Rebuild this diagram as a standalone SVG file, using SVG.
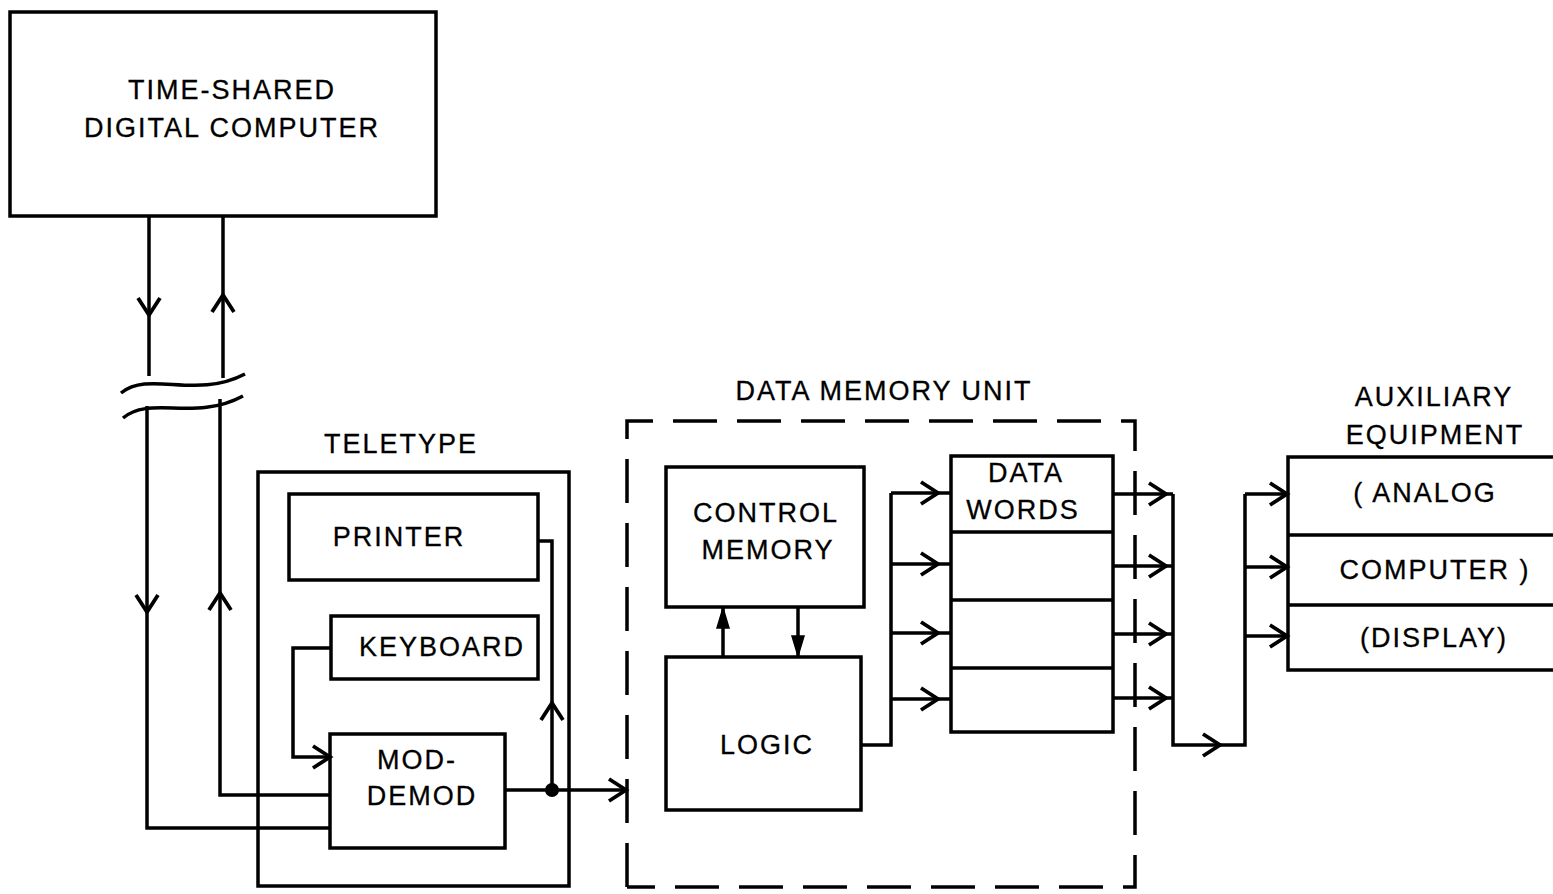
<svg xmlns="http://www.w3.org/2000/svg" width="1553" height="894" viewBox="0 0 1553 894">
<style>
.box{fill:none;stroke:#000;stroke-width:3.5}
.ln{fill:none;stroke:#000;stroke-width:3.5}
.dash{fill:none;stroke:#000;stroke-width:3.5;stroke-dasharray:44 20}
.t{font-family:"Liberation Sans",Arial,sans-serif;font-size:27px;letter-spacing:2px;text-anchor:middle;fill:#000;stroke:#000;stroke-width:0.3}
.oa{marker-end:url(#open)}
.om{marker-mid:url(#open)}
.sa{marker-end:url(#solid)}
</style>
<defs>
<marker id="open" markerUnits="userSpaceOnUse" viewBox="-20 -14 22 28" refX="0" refY="0" markerWidth="22" markerHeight="28" orient="auto" overflow="visible">
<path d="M-17,-11 L0,0 L-17,11" fill="none" stroke="#000" stroke-width="3.8"/>
</marker>
<marker id="solid" markerUnits="userSpaceOnUse" viewBox="-20 -8 22 16" refX="0" refY="0" markerWidth="22" markerHeight="16" orient="auto" overflow="visible">
<path d="M-20,-6 L0,0 L-20,6 Z" fill="#000" stroke="#000" stroke-width="1.5"/>
</marker>
</defs>
<rect width="1553" height="894" fill="#fff"/>

<g id="computer">
<rect class="box" x="10" y="12" width="426" height="204"/>
<text class="t" x="232" y="99">TIME-SHARED</text>
<text class="t" x="232" y="137">DIGITAL COMPUTER</text>
</g>

<g id="teletype">
<rect class="box" x="258" y="472" width="311" height="414"/>
<text class="t" x="401" y="453">TELETYPE</text>
</g>
<g id="printer">
<rect class="box" x="289" y="494" width="249" height="86"/>
<text class="t" x="399" y="546">PRINTER</text>
</g>
<g id="keyboard">
<rect class="box" x="331" y="616" width="207" height="63"/>
<text class="t" x="442" y="656">KEYBOARD</text>
</g>
<g id="moddemod">
<rect class="box" x="330" y="734" width="175" height="114"/>
<text class="t" x="417" y="769">MOD-</text>
<text class="t" x="422" y="805">DEMOD</text>
</g>

<g id="dmu">
<path class="dash" d="M627,887 V421 H1135 V887 H627"/>
<text class="t" x="884" y="400">DATA MEMORY UNIT</text>
</g>
<g id="control">
<rect class="box" x="666" y="467" width="198" height="140"/>
<text class="t" x="766" y="522">CONTROL</text>
<text class="t" x="768" y="559">MEMORY</text>
</g>
<g id="logic">
<rect class="box" x="666" y="657" width="195" height="153"/>
<text class="t" x="767" y="754">LOGIC</text>
</g>
<g id="datawords">
<rect class="box" x="951" y="456" width="162" height="276"/>
<path class="ln" d="M951,532 H1113 M951,600 H1113 M951,668 H1113"/>
<text class="t" x="1026" y="482">DATA</text>
<text class="t" x="1023" y="519">WORDS</text>
</g>

<g id="auxiliary">
<path class="box" d="M1553,457 H1288 V670 H1553 M1288,535 H1553 M1288,605 H1553"/>
<text class="t" x="1434" y="406">AUXILIARY</text>
<text class="t" x="1435" y="444">EQUIPMENT</text>
<text class="t" x="1425" y="502">( ANALOG</text>
<text class="t" x="1435" y="579">COMPUTER )</text>
<text class="t" x="1434" y="647">(DISPLAY)</text>
</g>

<g id="connectors">
<!-- computer to mod-demod (down) -->
<path class="ln oa" d="M149,216 V315"/>
<path class="ln" d="M149,315 V376"/>
<path class="ln oa" d="M147,406 V612"/>
<path class="ln" d="M147,612 V828 H330"/>
<!-- mod-demod to computer (up) -->
<path class="ln oa" d="M223,378 V295"/>
<path class="ln" d="M223,295 V216"/>
<path class="ln oa" d="M330,795 H220 V593"/>
<path class="ln" d="M220,593 V399"/>
<!-- break marks -->
<path class="ln" stroke-width="4.5" d="M121,393 C150,370 195,400 245,374"/>
<path class="ln" stroke-width="4.5" d="M123,418 C150,395 195,422 243,396"/>
<!-- keyboard to mod-demod -->
<path class="ln oa" d="M331,648 H293 V757 H330"/>
<!-- junction to printer -->
<path class="ln oa" d="M552,790 V703"/>
<path class="ln" d="M552,703 V541 H538"/>
<!-- mod-demod to data memory unit -->
<path class="ln oa" d="M505,790 H626"/>
<circle cx="552" cy="790" r="7" fill="#000"/>
<!-- logic / control memory -->
<path class="ln sa" d="M723,657 V608"/>
<path class="ln sa" d="M798,607 V656"/>
<!-- logic to data words -->
<path class="ln" d="M861,745 H891 V493"/>
<path class="ln om" d="M891,493 H938 H951"/>
<path class="ln om" d="M891,564 H938 H951"/>
<path class="ln om" d="M891,633 H938 H951"/>
<path class="ln om" d="M891,699 H938 H951"/>
<!-- data words to bus -->
<path class="ln om" d="M1113,494 H1166 H1173"/>
<path class="ln om" d="M1113,566 H1166 H1173"/>
<path class="ln om" d="M1113,634 H1166 H1173"/>
<path class="ln om" d="M1113,698 H1166 H1173"/>
<path class="ln oa" d="M1173,494 V745 H1220"/>
<path class="ln" d="M1220,745 H1245 V494"/>
<!-- bus to auxiliary -->
<path class="ln oa" d="M1245,494 H1287"/>
<path class="ln oa" d="M1245,567 H1287"/>
<path class="ln oa" d="M1245,636 H1287"/>
</g>
</svg>
